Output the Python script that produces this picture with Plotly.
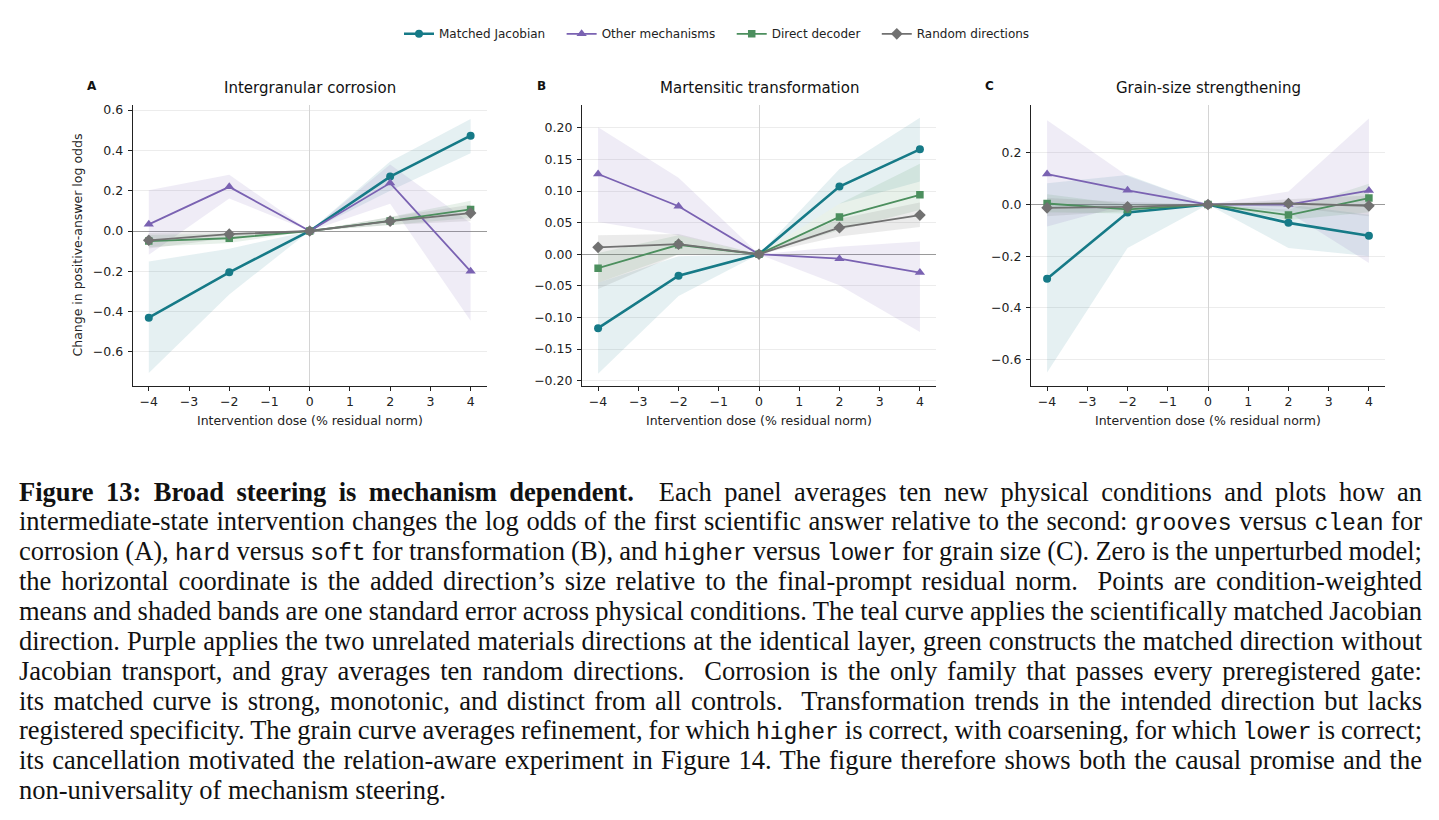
import plotly.graph_objects as go

W, H = 1439, 820

DOSE = [-4, -2, 0, 2, 4]
SERIES = ["Matched Jacobian", "Other mechanisms", "Direct decoder", "Random directions"]
PANEL_TITLES = ["Intergranular corrosion", "Martensitic transformation", "Grain-size strengthening"]
PANEL_LETTERS = ["A", "B", "C"]

# Panel A: Intergranular corrosion
A_matched = [-0.430, -0.205, 0.0, 0.270, 0.473]
A_matched_lo = [-0.705, -0.315, 0.0, 0.200, 0.386]
A_matched_hi = [-0.151, -0.088, 0.0, 0.345, 0.556]
A_other = [0.033, 0.219, 0.0, 0.238, -0.200]
A_other_lo = [-0.118, 0.161, 0.0, 0.135, -0.445]
A_other_hi = [0.202, 0.279, 0.0, 0.330, 0.040]
A_direct = [-0.050, -0.036, 0.0, 0.050, 0.107]
A_direct_lo = [-0.080, -0.060, 0.0, 0.030, 0.065]
A_direct_hi = [-0.020, -0.012, 0.0, 0.070, 0.150]
A_random = [-0.046, -0.016, 0.0, 0.049, 0.089]
A_random_lo = [-0.087, -0.035, 0.0, 0.030, 0.050]
A_random_hi = [-0.010, 0.000, 0.0, 0.070, 0.130]

# Panel B: Martensitic transformation
B_matched = [-0.117, -0.034, 0.0, 0.107, 0.166]
B_matched_lo = [-0.189, -0.066, 0.0, 0.080, 0.115]
B_matched_hi = [-0.045, -0.003, 0.0, 0.135, 0.216]
B_other = [0.127, 0.076, 0.0, -0.007, -0.029]
B_other_lo = [0.051, 0.030, 0.0, -0.049, -0.123]
B_other_hi = [0.201, 0.121, 0.0, 0.012, 0.020]
B_direct = [-0.022, 0.015, 0.0, 0.059, 0.094]
B_direct_lo = [-0.045, 0.000, 0.0, 0.038, 0.070]
B_direct_hi = [0.002, 0.030, 0.0, 0.080, 0.143]
B_random = [0.011, 0.016, 0.0, 0.042, 0.062]
B_random_lo = [-0.055, 0.000, 0.0, 0.028, 0.043]
B_random_hi = [0.030, 0.032, 0.0, 0.056, 0.082]

# Panel C: Grain-size strengthening
C_matched = [-0.287, -0.031, 0.0, -0.071, -0.121]
C_matched_lo = [-0.650, -0.168, 0.0, -0.168, -0.200]
C_matched_hi = [0.082, 0.114, 0.0, 0.000, -0.040]
C_other = [0.118, 0.055, 0.0, 0.000, 0.054]
C_other_lo = [-0.085, 0.000, 0.0, -0.030, -0.226]
C_other_hi = [0.326, 0.110, 0.0, 0.050, 0.333]
C_direct = [0.004, -0.019, 0.0, -0.041, 0.025]
C_direct_lo = [-0.030, -0.035, 0.0, -0.060, -0.030]
C_direct_hi = [0.040, 0.000, 0.0, -0.020, 0.080]
C_random = [-0.013, -0.009, 0.0, 0.004, -0.005]
C_random_lo = [-0.045, -0.025, 0.0, -0.010, -0.045]
C_random_hi = [0.025, 0.010, 0.0, 0.020, 0.035]

PANELS = [
    [(A_matched, A_matched_lo, A_matched_hi), (A_other, A_other_lo, A_other_hi),
     (A_direct, A_direct_lo, A_direct_hi), (A_random, A_random_lo, A_random_hi)],
    [(B_matched, B_matched_lo, B_matched_hi), (B_other, B_other_lo, B_other_hi),
     (B_direct, B_direct_lo, B_direct_hi), (B_random, B_random_lo, B_random_hi)],
    [(C_matched, C_matched_lo, C_matched_hi), (C_other, C_other_lo, C_other_hi),
     (C_direct, C_direct_lo, C_direct_hi), (C_random, C_random_lo, C_random_hi)],
]

Y_RANGES = [[-0.771, 0.625], [-0.209, 0.236], [-0.704, 0.385]]
Y_TICKS = [[-0.6, -0.4, -0.2, 0.0, 0.2, 0.4, 0.6],
           [-0.20, -0.15, -0.10, -0.05, 0.0, 0.05, 0.10, 0.15, 0.20],
           [-0.6, -0.4, -0.2, 0.0, 0.2]]
Y_FMT = [".1f", ".2f", ".1f"]
X_TICKS = [-4, -3, -2, -1, 0, 1, 2, 3, 4]

CAPTION_LINES = [
    "<b>Figure 13: Broad steering is mechanism dependent.</b>\u00a0 Each panel averages ten new physical conditions and plots how an",
    "intermediate-state intervention changes the log odds of the first scientific answer relative to the second: {grooves} versus {clean} for",
    "corrosion (A), {hard} versus {soft} for transformation (B), and {higher} versus {lower} for grain size (C). Zero is the unperturbed model;",
    "the horizontal coordinate is the added direction\u2019s size relative to the final-prompt residual norm.\u00a0 Points are condition-weighted",
    "means and shaded bands are one standard error across physical conditions. The teal curve applies the scientifically matched Jacobian",
    "direction. Purple applies the two unrelated materials directions at the identical layer, green constructs the matched direction without",
    "Jacobian transport, and gray averages ten random directions.\u00a0 Corrosion is the only family that passes every preregistered gate:",
    "its matched curve is strong, monotonic, and distinct from all controls.\u00a0 Transformation trends in the intended direction but lacks",
    "registered specificity. The grain curve averages refinement, for which {higher} is correct, with coarsening, for which {lower} is correct;",
    "its cancellation motivated the relation-aware experiment in Figure 14. The figure therefore shows both the causal promise and the",
    "non-universality of mechanism steering.",
]

COLORS = ["#167A87", "#7A62B2", "#4C8F5E", "#717171"]
FILLS = ["rgba(22,122,135,0.11)", "rgba(122,98,178,0.12)", "rgba(76,143,94,0.13)", "rgba(113,113,113,0.14)"]
SYMBOLS = ["circle", "triangle-up", "square", "diamond"]
MSIZES = [8, 9, 7.5, 9]
LWIDTHS = [2.6, 1.8, 1.8, 1.8]

# layout geometry (pixels)
AX_X = [(132.7, 486.7), (582.0, 936.0), (1031.0, 1385.0)]
AX_TOP, AX_BOT = 102.7, 385.7
CAP_X, CAP_W, CAP_BASE0, CAP_STEP, CAP_SIZE = 17, 1403, 500, 30, 26.5


def px(x):
    return x / W


def py(y):
    return 1 - y / H


fig = go.Figure()
for p in range(3):
    xa = "x" if p == 0 else f"x{p+1}"
    ya = "y" if p == 0 else f"y{p+1}"
    for s in range(4):
        mean, lo, hi = PANELS[p][s]
        fig.add_trace(go.Scatter(
            x=DOSE + DOSE[::-1], y=hi + lo[::-1], xaxis=xa, yaxis=ya,
            fill="toself", fillcolor=FILLS[s], line=dict(width=0),
            mode="lines", hoverinfo="skip", showlegend=False))
    for s in range(4):
        mean, lo, hi = PANELS[p][s]
        label = SERIES[s] + ("\u00a0\u00a0\u00a0" if s < 3 else "")
        fig.add_trace(go.Scatter(
            x=DOSE, y=mean, xaxis=xa, yaxis=ya, name=label,
            mode="lines+markers",
            line=dict(color=COLORS[s], width=LWIDTHS[s]),
            marker=dict(symbol=SYMBOLS[s], size=MSIZES[s], color=COLORS[s], line=dict(width=0)),
            showlegend=(p == 0), legendrank=s + 1))

axis_font = dict(family="DejaVu Sans", size=12.5, color="#222222")
layout = dict(
    width=W, height=H, margin=dict(l=0, r=0, t=0, b=0),
    paper_bgcolor="white", plot_bgcolor="white",
    showlegend=True,
    legend=dict(orientation="h", x=px(717), y=py(31), xanchor="center", yanchor="middle",
                font=dict(family="DejaVu Sans", size=12, color="#222222"),
                itemwidth=30, tracegroupgap=0, bgcolor="rgba(0,0,0,0)", traceorder="normal"),
)
for p in range(3):
    sx = "" if p == 0 else str(p + 1)
    layout[f"xaxis{sx}"] = dict(
        domain=[px(AX_X[p][0]), px(AX_X[p][1])], range=[-4.4, 4.4], anchor=f"y{sx}",
        tickvals=X_TICKS, showgrid=False, zeroline=True, zerolinecolor="#d4d4d4", zerolinewidth=1,
        showline=True, linecolor="#222222", linewidth=1.1, ticks="outside", ticklen=4,
        tickwidth=1, tickcolor="#222222", tickfont=axis_font)
    layout[f"yaxis{sx}"] = dict(
        domain=[py(AX_BOT), py(AX_TOP)], range=Y_RANGES[p], anchor=f"x{sx}",
        tickvals=Y_TICKS[p], tickformat=Y_FMT[p], showgrid=True, gridcolor="#ececec", gridwidth=1,
        zeroline=True, zerolinecolor="#9a9a9a", zerolinewidth=1,
        showline=True, linecolor="#222222", linewidth=1.1, ticks="outside", ticklen=4,
        tickwidth=1, tickcolor="#222222", tickfont=axis_font, ticklabelstandoff=2)
fig.update_layout(**layout)

ann = []
for p in range(3):
    cx = (AX_X[p][0] + AX_X[p][1]) / 2
    ann.append(dict(text=PANEL_TITLES[p], x=px(cx), y=py(86), xref="paper", yref="paper",
                    xanchor="center", yanchor="middle", showarrow=False,
                    font=dict(family="DejaVu Sans", size=15, color="#111111")))
    ann.append(dict(text="<b>" + PANEL_LETTERS[p] + "</b>", x=px(AX_X[p][0] - 41), y=py(84),
                    xref="paper", yref="paper", xanchor="center", yanchor="middle", showarrow=False,
                    font=dict(family="DejaVu Sans", size=12, color="#111111")))
    ann.append(dict(text="Intervention dose (% residual norm)", x=px(cx), y=py(420),
                    xref="paper", yref="paper", xanchor="center", yanchor="middle", showarrow=False,
                    font=dict(family="DejaVu Sans", size=12.5, color="#222222")))
ann.append(dict(text="Change in positive-answer log odds", x=px(78), y=py(244), textangle=-90,
                xref="paper", yref="paper", xanchor="center", yanchor="middle", showarrow=False,
                font=dict(family="DejaVu Sans", size=12.5, color="#222222")))

MONO = '<span style="font-family:Liberation Mono;font-size:23px">{}</span>'
words = {k: MONO.format(k) for k in ["grooves", "clean", "hard", "soft", "higher", "lower"]}
cap_start = len(ann)
for i, line in enumerate(CAPTION_LINES):
    txt = line.format(**words)
    base = CAP_BASE0 + CAP_STEP * i
    ann.append(dict(text=txt, x=px(CAP_X), y=py(base - 8), xref="paper", yref="paper",
                    xanchor="left", yanchor="middle", showarrow=False, align="left",
                    font=dict(family="Liberation Serif", size=CAP_SIZE, color="#111111")))
fig.update_layout(annotations=ann)

n_cap = len(CAPTION_LINES)
js = """
document.body.style.margin = '0';
document.body.style.padding = '0';
document.body.style.overflow = 'hidden';
function justifyCaption() {
  var gd = document.getElementById('{plot_id}');
  if (!gd) return;
  var groups = gd.querySelectorAll('g.annotation');
  for (var k = 0; k < groups.length; k++) {
    var g = groups[k];
    var idx = parseInt(g.getAttribute('data-index'));
    if (idx < CAP0 || idx >= CAP0 + NCAP - 1) continue;
    var t = g.querySelector('text.annotation-text');
    if (!t) continue;
    var spans = [t].concat(Array.prototype.slice.call(t.querySelectorAll('tspan')));
    spans.forEach(function(e){ e.style.wordSpacing = '0px'; });
    var w = t.getComputedTextLength();
    var s = (t.textContent.match(/[ \\u00a0]/g) || []).length;
    if (s > 0) {
      var extra = ((CAPW - w) / s).toFixed(3) + 'px';
      spans.forEach(function(e){ e.style.wordSpacing = extra; });
    }
  }
}
justifyCaption();
setTimeout(justifyCaption, 200);
""".replace("CAP0", str(cap_start)).replace("NCAP", str(n_cap)).replace("CAPW", str(CAP_W))

fig.write_html("out.html", post_script=js, config={"displayModeBar": False})
